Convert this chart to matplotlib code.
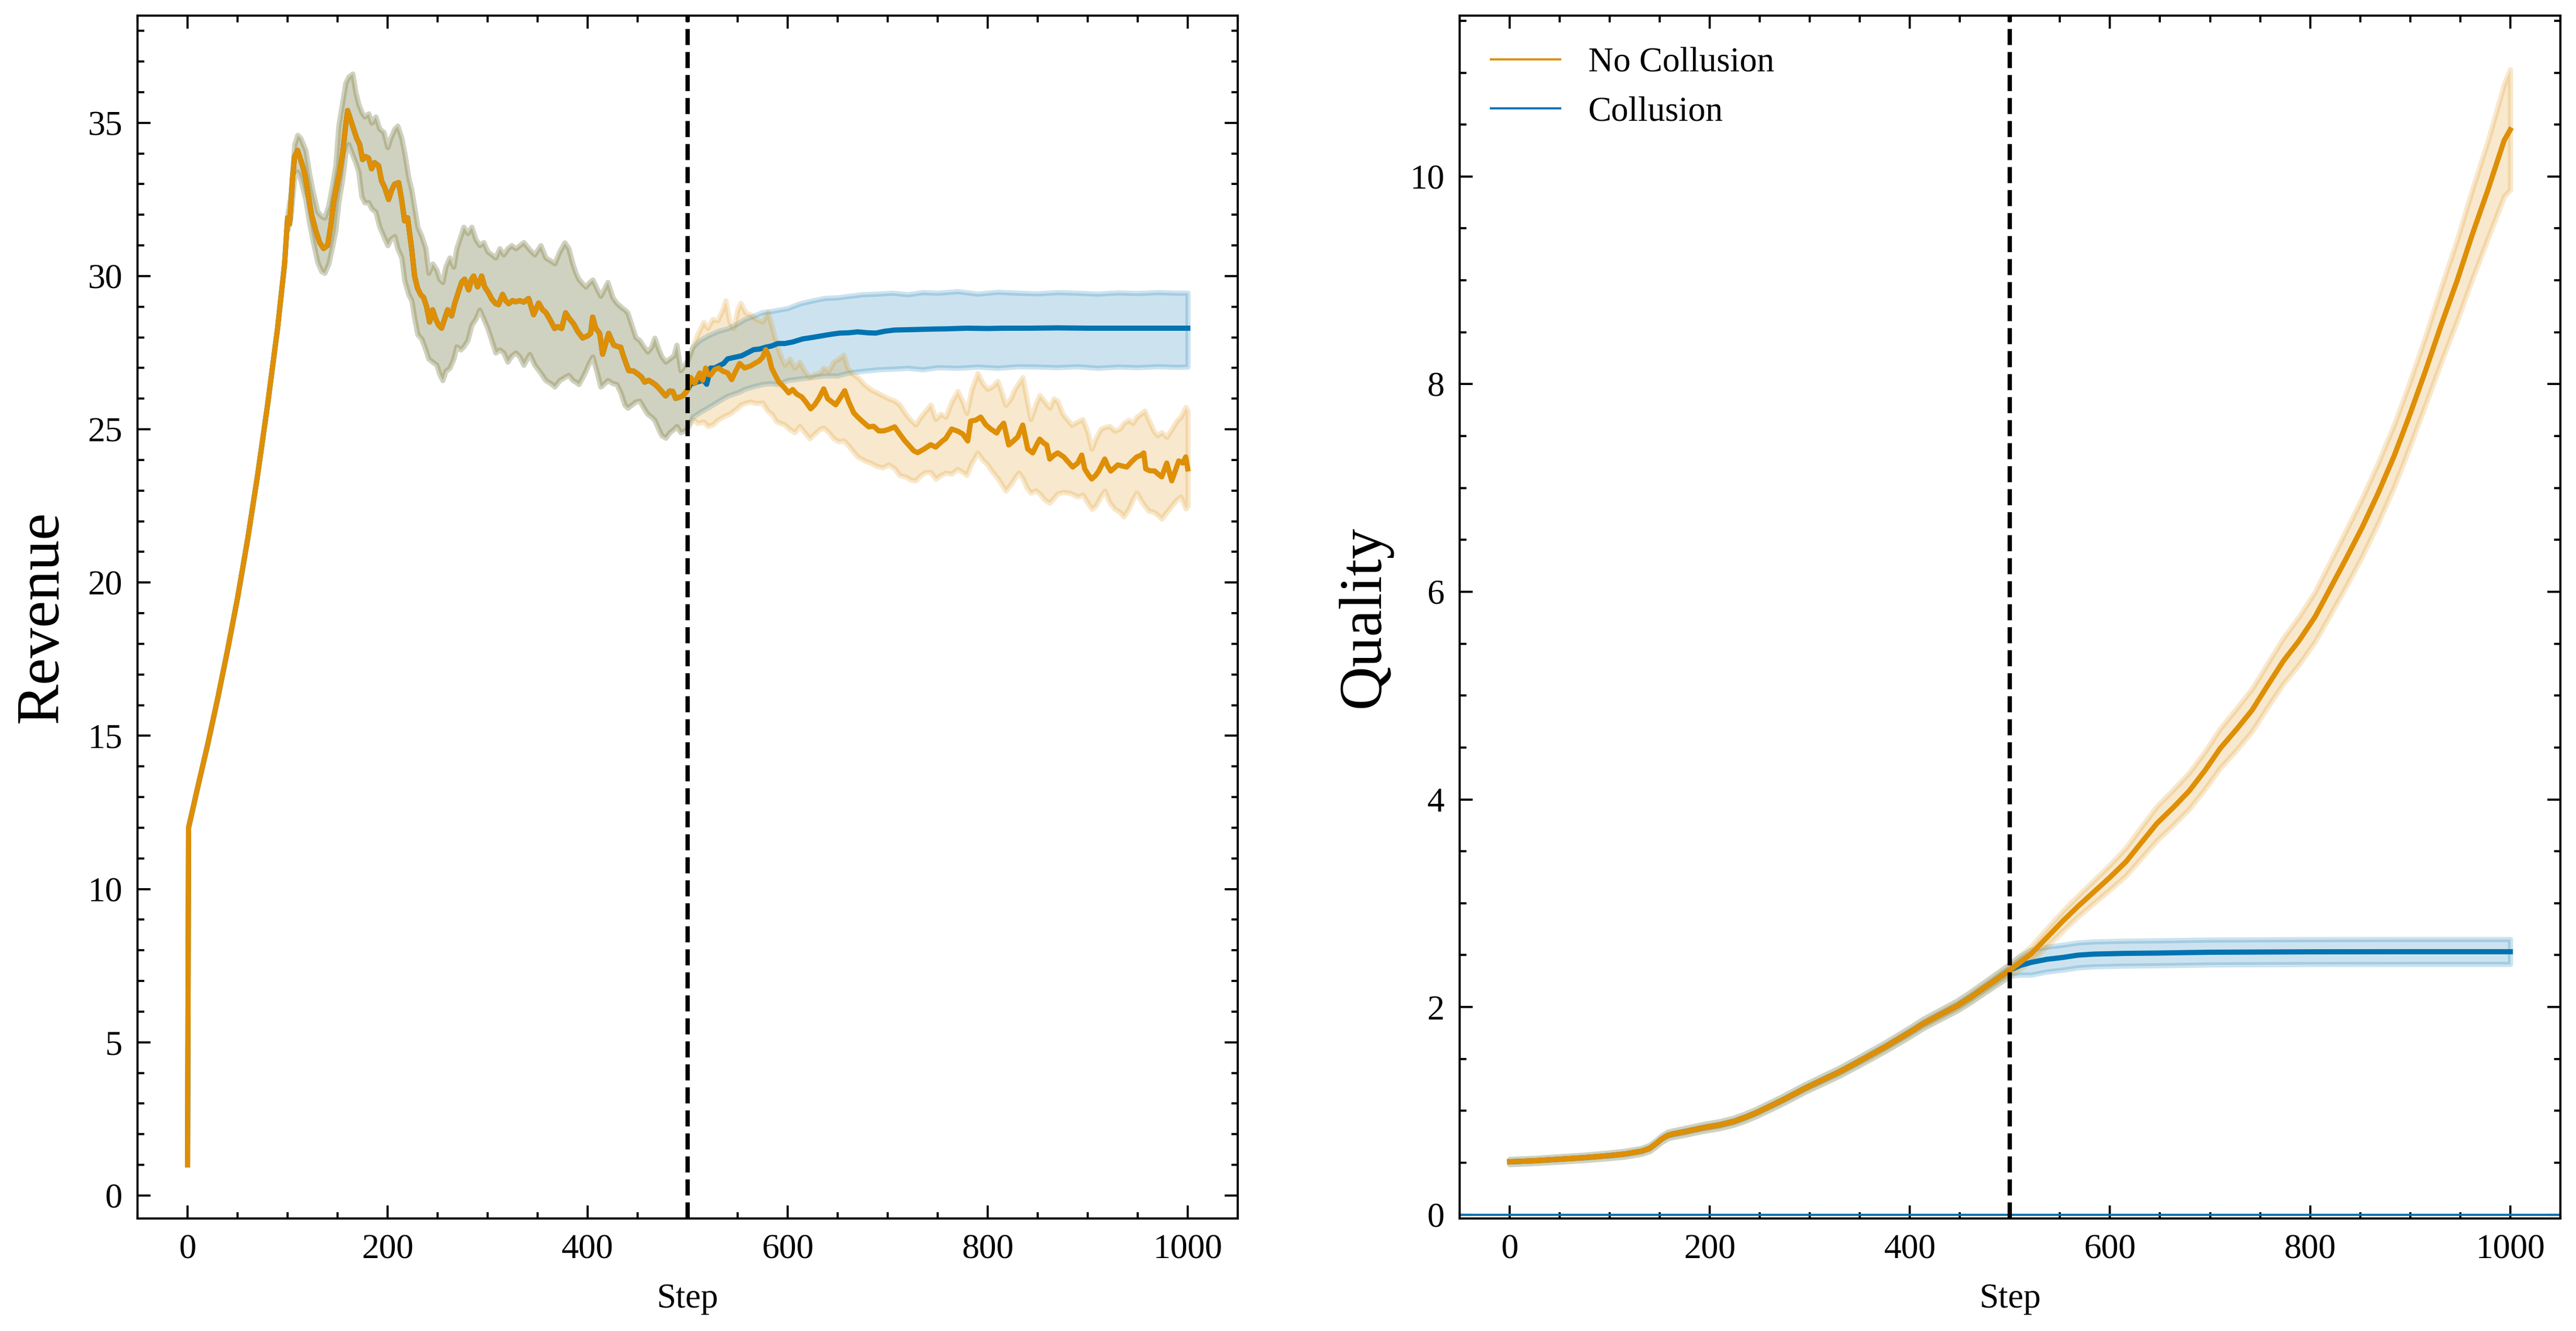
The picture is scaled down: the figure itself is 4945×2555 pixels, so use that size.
import numpy as np
import matplotlib.pyplot as plt
from matplotlib.lines import Line2D

# estilo parecido com SciencePlots
plt.rcParams.update({
    'font.family': ['Liberation Serif', 'DejaVu Serif'],
    'font.size': 8,
    'axes.linewidth': 0.5,
    'xtick.direction': 'in',
    'ytick.direction': 'in',
    'xtick.top': True,
    'ytick.right': True,
    'xtick.minor.visible': True,
    'ytick.minor.visible': True,
    'xtick.major.size': 3,
    'ytick.major.size': 3,
    'xtick.minor.size': 1.5,
    'ytick.minor.size': 1.5,
    'xtick.major.width': 0.5,
    'ytick.major.width': 0.5,
    'xtick.minor.width': 0.5,
    'ytick.minor.width': 0.5,
    'legend.frameon': False,
    'lines.linewidth': 1.2,
    'patch.linewidth': 1.2,
})

cor_nc = '#DE8F05'   # No Collusion
cor_c = '#0173B2'    # Collusion
split_step = 500

# --- Revenue: trecho comum (antes do passo 500) ---
rev_pre_steps = [0, 1, 10, 20, 30, 40, 50, 60, 70, 80, 90, 97, 100, 102, 105, 107, 110, 112, 115, 118,
                 121, 124, 128, 132, 136, 140, 143, 146, 149, 152, 155, 158, 160, 163, 166, 169, 172, 175,
                 178, 181, 184, 187, 191, 194, 197, 201, 204, 207, 211, 214, 217, 220, 224, 227, 230, 233,
                 236, 239, 242, 245, 248, 251, 254, 257, 260, 264, 267, 271, 274, 277, 281, 284, 286, 290,
                 294, 297, 301, 304, 308, 311, 315, 318, 321, 325, 328, 332, 336, 341, 346, 351, 355, 358,
                 362, 367, 370, 374, 378, 382, 386, 390, 395, 400, 403, 405, 408, 412, 415, 418, 421, 426,
                 430, 433, 436, 441, 446, 450, 454, 457, 461, 464, 468, 471, 475, 478, 482, 485, 488, 492,
                 495, 498, 500]
rev_pre = [1.0, 12.0, 13.3, 14.7, 16.2, 17.8, 19.5, 21.4, 23.5, 25.8, 28.3, 30.4, 31.9, 31.7, 33.2, 33.9,
           34.1, 33.9, 33.6, 33.2, 32.6, 32.0, 31.5, 31.1, 30.9, 31.0, 31.6, 32.4, 32.9, 33.4, 34.0, 34.9,
           35.4, 35.1, 34.8, 34.5, 34.3, 33.8, 33.9, 33.85, 33.5, 33.7, 33.6, 33.1, 32.9, 32.5, 32.8, 33.0,
           33.05, 32.5, 31.8, 31.9, 30.9, 30.0, 29.6, 29.4, 29.3, 29.0, 28.5, 28.9, 28.6, 28.4, 28.3, 28.6,
           28.9, 28.7, 29.1, 29.5, 29.8, 29.9, 29.55, 29.9, 30.0, 29.65, 30.0, 29.65, 29.45, 29.26, 29.1,
           29.07, 29.4, 29.2, 29.1, 29.2, 29.16, 29.2, 29.15, 29.27, 28.74, 29.12, 28.9, 28.82, 28.6, 28.29,
           28.35, 28.29, 28.8, 28.6, 28.44, 28.2, 27.98, 28.05, 28.13, 28.66, 28.3, 28.13, 27.45, 27.8,
           28.13, 27.75, 27.7, 27.68, 27.37, 26.92, 26.9, 26.81, 26.7, 26.54, 26.6, 26.54, 26.45, 26.35,
           26.2, 26.09, 26.25, 26.24, 26.01, 26.05, 26.09, 26.2, 26.3]

rev_band_pre_steps = [100, 103, 107, 110, 113, 118, 122, 125, 130, 134, 137, 141, 145, 148, 151, 155, 158,
                      161, 165, 168, 171, 174, 177, 181, 184, 188, 192, 196, 200, 203, 207, 210, 214, 217,
                      221, 224, 227, 230, 234, 238, 241, 245, 249, 252, 255, 258, 262, 266, 269, 273, 276,
                      280, 284, 288, 292, 296, 300, 304, 308, 312, 316, 320, 324, 328, 332, 336, 342, 347,
                      353, 358, 363, 367, 372, 377, 381, 385, 388, 391, 395, 398, 402, 405, 409, 413, 417,
                      420, 425, 429, 433, 437, 440, 444, 448, 452, 456, 460, 464, 467, 471, 474, 478, 482,
                      486, 489, 493, 497, 500]
rev_band_pre_lo = [31.5, 31.9, 33.3, 33.4, 33.15, 32.5, 31.7, 31.2, 30.45, 30.15, 30.1, 30.4, 31.0, 31.5,
                   32.4, 33.2, 34.0, 34.3, 33.95, 33.7, 33.4, 32.6, 32.4, 32.4, 32.2, 32.1, 31.6, 31.3, 31.0,
                   31.2, 31.3, 30.9, 30.6, 29.85, 29.4, 29.2, 28.6, 28.1, 27.95, 27.6, 27.3, 27.2, 27.1, 26.8,
                   26.6, 26.9, 27.0, 27.3, 27.7, 27.6, 27.7, 27.9, 28.4, 28.6, 28.9, 28.6, 28.3, 27.9, 27.5,
                   27.6, 27.5, 27.2, 27.4, 27.5, 27.37, 27.1, 27.45, 27.1, 26.84, 26.6, 26.5, 26.39, 26.6,
                   26.7, 26.77, 26.6, 26.55, 26.47, 26.7, 26.9, 27.2, 27.37, 26.9, 26.39, 26.5, 26.6, 26.5,
                   26.47, 26.2, 25.8, 25.7, 25.8, 25.9, 25.93, 25.7, 25.5, 25.4, 25.3, 25.0, 24.8, 24.72,
                   24.9, 25.0, 25.1, 24.9, 24.95, 25.05]
rev_band_pre_hi = [32.0, 32.6, 34.3, 34.6, 34.5, 34.1, 33.3, 32.8, 32.1, 31.95, 31.9, 32.3, 33.0, 33.6,
                   34.9, 35.7, 36.3, 36.5, 36.6, 36.0, 35.6, 35.35, 35.2, 35.3, 35.0, 35.2, 34.8, 34.7, 34.2,
                   34.5, 34.8, 34.9, 34.5, 34.0, 33.2, 32.8, 32.2, 31.6, 31.3, 30.9, 30.1, 30.4, 30.2, 29.9,
                   29.8, 30.3, 30.6, 30.3, 30.9, 31.3, 31.6, 31.4, 31.6, 31.2, 31.0, 31.1, 30.8, 30.7, 30.6,
                   30.9, 30.7, 30.9, 31.0, 30.9, 31.0, 31.1, 30.86, 30.7, 31.0, 30.6, 30.5, 30.41, 30.8,
                   31.09, 30.9, 30.4, 30.11, 29.9, 29.75, 29.65, 29.8, 29.88, 29.6, 29.35, 29.6, 29.8, 29.3,
                   29.12, 29.0, 28.9, 28.8, 28.4, 28.0, 27.9, 27.7, 27.53, 27.7, 27.98, 27.6, 27.37, 27.2,
                   27.3, 27.4, 27.75, 26.92, 27.1, 27.25]

# --- Revenue: No Collusion depois do passo 500 ---
rev_nc_steps = [503, 507, 512, 515, 518, 520, 523, 527, 531, 535, 540, 544, 548, 552, 557, 563, 567, 571,
                575, 578, 581, 584, 587, 591, 594, 597, 601, 605, 609, 614, 618, 623, 627, 631, 636, 640,
                644, 648, 652, 657, 661, 666, 670, 675, 681, 686, 691, 696, 701, 707, 712, 717, 722, 726,
                730, 736, 743, 748, 754, 758, 764, 770, 775, 780, 783, 788, 793, 798, 803, 809, 812, 816,
                821, 825, 830, 835, 840, 845, 849, 852, 856, 859, 862, 866, 870, 876, 880, 885, 890, 894,
                897, 901, 904, 908, 911, 917, 920, 923, 927, 930, 935, 939, 944, 949, 953, 956, 958, 962,
                967, 970, 974, 979, 984, 987, 991, 995, 998, 1000]
rev_nc = [26.69, 26.5, 26.84, 26.6, 27.0, 26.8, 26.77, 26.95, 27.0, 26.9, 26.84, 26.62, 26.9, 27.15, 27.0,
          27.07, 27.15, 27.22, 27.35, 27.6, 27.4, 27.0, 26.8, 26.55, 26.45, 26.35, 26.19, 26.3, 26.15, 26.06,
          25.9, 25.67, 25.8, 26.0, 26.32, 26.0, 25.9, 25.8, 26.0, 26.26, 25.9, 25.54, 25.4, 25.25, 25.08,
          25.1, 24.95, 24.95, 25.0, 25.08, 24.85, 24.63, 24.45, 24.3, 24.24, 24.35, 24.5, 24.42, 24.6, 24.7,
          25.01, 24.94, 24.85, 24.62, 25.27, 25.3, 25.4, 25.15, 25.01, 24.88, 25.05, 25.2, 24.49, 24.6,
          24.75, 25.14, 24.36, 24.23, 24.5, 24.68, 24.55, 24.49, 24.03, 24.15, 24.23, 24.1, 23.95, 23.77,
          23.9, 24.16, 23.71, 23.5, 23.38, 23.5, 23.64, 24.03, 23.8, 23.64, 23.75, 23.84, 23.8, 23.77, 23.95,
          24.1, 24.15, 24.23, 23.71, 23.65, 23.64, 23.55, 23.45, 23.9, 23.32, 23.6, 23.97, 23.9, 24.1, 23.71]

rev_nc_band_steps = [505, 510, 516, 520, 525, 530, 535, 538, 542, 546, 550, 553, 558, 563, 568, 575, 580,
                     584, 589, 593, 597, 602, 607, 612, 617, 622, 627, 632, 636, 641, 646, 651, 656, 660,
                     665, 670, 677, 683, 689, 695, 701, 707, 712, 718, 723, 728, 733, 738, 743, 748, 753,
                     758, 764, 770, 775, 779, 784, 790, 795, 800, 805, 810, 814, 818, 823, 827, 831, 835,
                     839, 843, 848, 852, 857, 862, 866, 870, 875, 880, 884, 890, 895, 900, 904, 908, 913,
                     917, 922, 927, 932, 936, 941, 945, 949, 953, 957, 961, 966, 970, 974, 979, 984, 989,
                     993, 998, 1000]
rev_nc_band_lo = [25.33, 25.2, 25.25, 25.1, 25.15, 25.3, 25.4, 25.45, 25.5, 25.6, 25.7, 25.8, 25.86, 25.9,
                  25.85, 25.86, 25.6, 25.5, 25.25, 25.2, 25.15, 25.0, 24.9, 25.1, 24.9, 24.7, 24.85, 25.0,
                  25.05, 24.9, 24.7, 24.6, 24.63, 24.5, 24.3, 24.1, 23.98, 23.9, 23.8, 23.75, 23.85, 23.72,
                  23.5, 23.45, 23.35, 23.33, 23.5, 23.6, 23.6, 23.38, 23.5, 23.58, 23.55, 23.7, 23.6, 23.51,
                  23.9, 24.23, 24.0, 23.84, 23.6, 23.4, 23.2, 22.99, 23.2, 23.4, 23.58, 23.4, 23.1, 22.93,
                  23.0, 22.9, 22.7, 22.6, 22.75, 22.9, 22.95, 22.93, 22.9, 22.8, 22.86, 22.6, 22.4, 22.5,
                  22.8, 22.99, 22.6, 22.4, 22.3, 22.15, 22.4, 22.7, 22.93, 22.7, 22.5, 22.34, 22.3, 22.2,
                  22.08, 22.3, 22.5, 22.7, 22.8, 22.41, 22.5]
rev_nc_band_hi = [27.68, 28.1, 28.5, 28.3, 28.59, 28.55, 28.9, 29.2, 28.5, 28.29, 28.9, 29.12, 28.8, 28.74,
                  28.6, 28.51, 28.82, 28.4, 27.75, 27.4, 27.1, 27.3, 27.0, 27.2, 26.9, 26.7, 26.8, 26.84,
                  27.0, 26.9, 27.2, 27.3, 27.43, 27.0, 26.8, 26.7, 26.45, 26.3, 26.2, 26.1, 26.0, 25.93,
                  25.8, 25.5, 25.3, 25.15, 25.4, 25.6, 25.8, 25.33, 25.5, 25.4, 25.9, 26.24, 25.9, 25.53,
                  26.3, 26.83, 26.5, 26.31, 26.4, 26.57, 26.2, 25.79, 26.0, 26.3, 26.5, 26.7, 26.0, 25.33,
                  25.8, 26.11, 25.9, 25.7, 26.0, 25.92, 25.5, 25.3, 25.14, 25.25, 25.33, 24.9, 24.36, 24.7,
                  25.0, 25.07, 25.1, 24.95, 25.01, 25.2, 25.3, 25.2, 25.4, 25.5, 25.6, 25.3, 24.94, 24.8,
                  24.9, 24.75, 25.0, 25.27, 25.4, 25.72, 25.6]

# --- Revenue: Collusion depois do passo 500 ---
rev_c_steps = [503, 510, 516, 519, 523, 527, 531, 536, 540, 547, 554, 560, 566, 572, 578, 584, 590, 597,
               605, 615, 625, 634, 643, 652, 661, 670, 680, 688, 697, 707, 720, 743, 760, 779, 800, 816,
               840, 870, 900, 930, 960, 1000]
rev_c = [26.47, 26.55, 26.6, 26.47, 27.0, 27.0, 27.07, 27.15, 27.3, 27.35, 27.4, 27.5, 27.6, 27.62, 27.68,
         27.72, 27.8, 27.8, 27.85, 27.95, 28.0, 28.05, 28.1, 28.14, 28.15, 28.18, 28.15, 28.14, 28.2, 28.24,
         28.25, 28.27, 28.28, 28.3, 28.29, 28.3, 28.3, 28.31, 28.3, 28.3, 28.3, 28.3]

rev_c_band_steps = [505, 512, 520, 530, 540, 550, 557, 566, 575, 583, 590, 600, 612, 625, 637, 650, 662,
                    675, 690, 705, 720, 735, 750, 770, 790, 810, 830, 850, 870, 890, 910, 930, 950, 970,
                    990, 1000]
rev_c_band_lo = [25.4, 25.55, 25.7, 25.9, 26.09, 26.2, 26.31, 26.4, 26.47, 26.5, 26.47, 26.6, 26.65, 26.7,
                 26.75, 26.75, 26.85, 26.9, 26.95, 26.97, 27.0, 26.95, 27.02, 27.0, 27.04, 27.0, 27.05,
                 27.04, 27.02, 27.05, 27.0, 27.04, 27.02, 27.05, 27.03, 27.04]
rev_c_band_hi = [27.68, 27.9, 28.05, 28.2, 28.29, 28.45, 28.59, 28.7, 28.82, 28.85, 28.89, 28.95, 29.1,
                 29.2, 29.28, 29.3, 29.35, 29.4, 29.42, 29.45, 29.4, 29.47, 29.45, 29.5, 29.42, 29.48,
                 29.45, 29.43, 29.47, 29.45, 29.42, 29.46, 29.44, 29.47, 29.45, 29.45]

# --- Quality ---
q_pre_steps = [0, 25, 50, 75, 100, 115, 132, 140, 146, 152, 158, 163, 175, 193, 210, 224, 236, 247,
               259, 271, 283, 295, 312, 329, 346, 362, 376, 390, 402, 413, 430, 447, 460, 474, 487, 500]
q_pre = [0.51, 0.52, 0.535, 0.55, 0.57, 0.585, 0.613, 0.64, 0.682, 0.73, 0.765, 0.777, 0.80, 0.837,
         0.865, 0.898, 0.94, 0.984, 1.04, 1.096, 1.156, 1.217, 1.295, 1.372, 1.46, 1.545, 1.62, 1.70,
         1.77, 1.838, 1.925, 2.011, 2.09, 2.184, 2.27, 2.356]
q_pre_std = [0.025, 0.025, 0.026, 0.026, 0.027, 0.028, 0.028, 0.03, 0.03, 0.032, 0.032, 0.032, 0.033,
             0.033, 0.034, 0.034, 0.035, 0.035, 0.036, 0.036, 0.037, 0.037, 0.038, 0.039, 0.04, 0.041,
             0.042, 0.043, 0.044, 0.045, 0.046, 0.048, 0.05, 0.052, 0.055, 0.058]

q_nc_steps = [521, 537, 553, 568, 584, 600, 616, 631, 647, 663, 679, 695, 710, 726, 742, 757, 773, 789,
              805, 820, 836, 852, 868, 884, 899, 915, 931, 947, 962, 978, 994, 1000]
q_nc = [2.51, 2.67, 2.83, 2.97, 3.11, 3.25, 3.40, 3.58, 3.77, 3.92, 4.08, 4.28, 4.49, 4.67, 4.86, 5.09,
        5.33, 5.53, 5.76, 6.03, 6.32, 6.62, 6.95, 7.31, 7.69, 8.12, 8.57, 9.0, 9.44, 9.88, 10.35, 10.45]
q_nc_std = [0.07, 0.085, 0.095, 0.10, 0.11, 0.12, 0.135, 0.15, 0.165, 0.17, 0.175, 0.18, 0.19, 0.20,
            0.205, 0.21, 0.22, 0.23, 0.24, 0.255, 0.27, 0.28, 0.29, 0.30, 0.31, 0.33, 0.36, 0.39, 0.43,
            0.47, 0.54, 0.58]

q_c_steps = [510, 521, 537, 553, 568, 584, 615, 647, 700, 800, 900, 1000]
q_c = [2.40, 2.43, 2.46, 2.478, 2.50, 2.51, 2.517, 2.52, 2.528, 2.532, 2.533, 2.533]
q_c_std = [0.09, 0.12, 0.12, 0.12, 0.12, 0.12, 0.12, 0.12, 0.12, 0.12, 0.12, 0.12]


# monta as séries completas (trecho comum + trecho depois do passo 500)
def junta(a, b):
    return np.concatenate([np.asarray(a, float), np.asarray(b, float)])


fig = plt.figure(figsize=(4945 / 600, 2555 / 600), dpi=600)
ax1 = fig.add_axes([0.0534, 0.0845, 0.4271, 0.9038])
ax2 = fig.add_axes([0.5666, 0.0845, 0.4273, 0.9038])

# --- painel da receita ---
ax1.fill_between(junta(rev_band_pre_steps, rev_c_band_steps),
                 junta(rev_band_pre_lo, rev_c_band_lo),
                 junta(rev_band_pre_hi, rev_c_band_hi), color=cor_c, alpha=0.2)
ax1.plot(junta(rev_pre_steps, rev_c_steps), junta(rev_pre, rev_c), color=cor_c)
ax1.fill_between(junta(rev_band_pre_steps, rev_nc_band_steps),
                 junta(rev_band_pre_lo, rev_nc_band_lo),
                 junta(rev_band_pre_hi, rev_nc_band_hi), color=cor_nc, alpha=0.2)
ax1.plot(junta(rev_pre_steps, rev_nc_steps), junta(rev_pre, rev_nc), color=cor_nc)
ax1.axvline(split_step, color='black', linestyle='--', linewidth=1.0)
ax1.set_xlim(-50, 1050)
ax1.set_ylim(-0.75, 38.5)
ax1.set_xlabel('Step')
ax1.set_ylabel('Revenue', fontsize=14)

# --- painel da qualidade ---
x_c = junta(q_pre_steps, q_c_steps)
m_c = junta(q_pre, q_c)
s_c = junta(q_pre_std, q_c_std)
x_nc = junta(q_pre_steps, q_nc_steps)
m_nc = junta(q_pre, q_nc)
s_nc = junta(q_pre_std, q_nc_std)

ax2.fill_between(x_c, m_c - s_c, m_c + s_c, color=cor_c, alpha=0.2)
ax2.plot(x_c, m_c, color=cor_c)
ax2.fill_between(x_nc, m_nc - s_nc, m_nc + s_nc, color=cor_nc, alpha=0.2)
ax2.plot(x_nc, m_nc, color=cor_nc)
ax2.axhline(0, color=cor_c, linewidth=0.5)
ax2.axvline(split_step, color='black', linestyle='--', linewidth=1.0)
ax2.set_xlim(-50, 1050)
ax2.set_ylim(-0.037, 11.55)
ax2.set_xlabel('Step')
ax2.set_ylabel('Quality', fontsize=14)

handles = [Line2D([], [], color=cor_nc, linewidth=0.5, label='No Collusion'),
           Line2D([], [], color=cor_c, linewidth=0.5, label='Collusion')]
ax2.legend(handles=handles, loc='upper left')

fig.savefig('out.png', dpi=600)
